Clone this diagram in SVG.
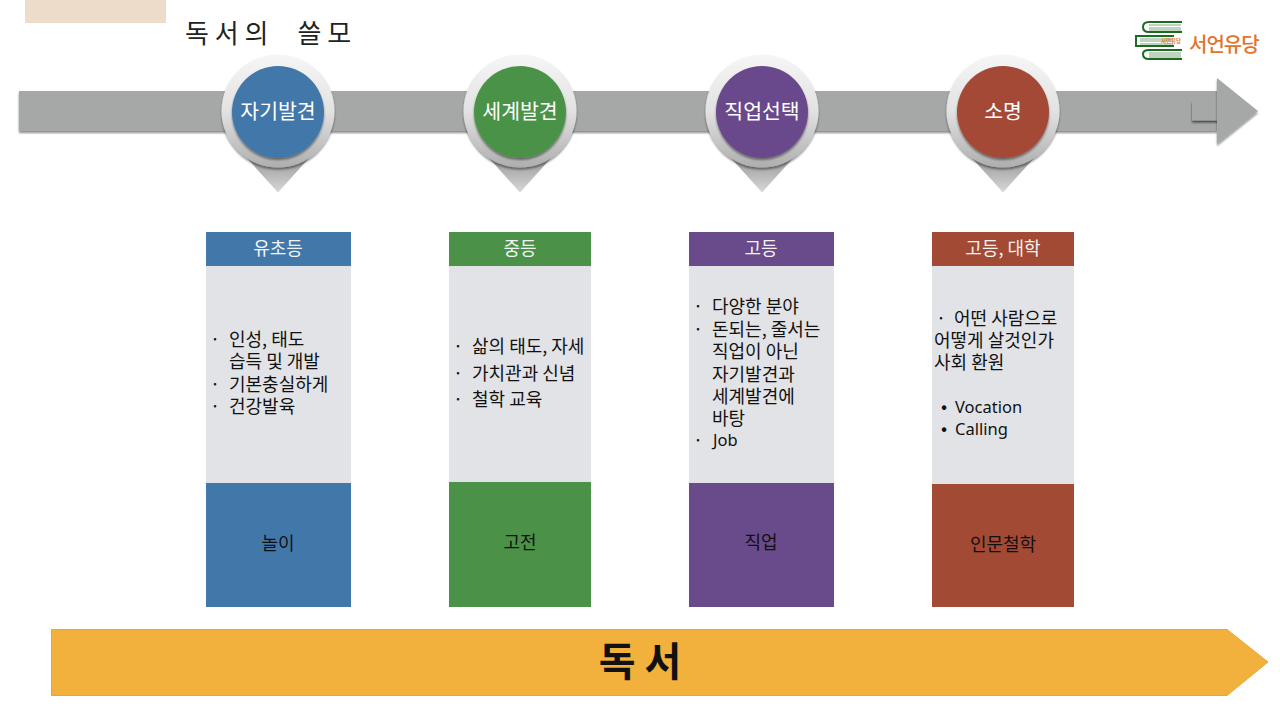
<svg xmlns="http://www.w3.org/2000/svg" width="1280" height="718" viewBox="0 0 1280 718">
<defs>
<linearGradient id="ring" x1="0" y1="0" x2="0" y2="1"><stop offset="0" stop-color="#f6f6f6"/><stop offset="0.5" stop-color="#e2e2e2"/><stop offset="1" stop-color="#aeaeae"/></linearGradient>
<linearGradient id="tip" x1="0" y1="0" x2="0" y2="1"><stop offset="0.2" stop-color="#a4a4a4"/><stop offset="1" stop-color="#d8d8d8"/></linearGradient>
<filter id="sh" x="-10%" y="-10%" width="120%" height="130%"><feGaussianBlur in="SourceAlpha" stdDeviation="1.200"/><feOffset dy="1.500"/><feComponentTransfer><feFuncA type="linear" slope="0.45"/></feComponentTransfer><feMerge><feMergeNode/><feMergeNode in="SourceGraphic"/></feMerge></filter>
<filter id="shl" x="-20%" y="-20%" width="130%" height="150%"><feGaussianBlur in="SourceAlpha" stdDeviation="1"/><feOffset dx="-0.500" dy="1.500"/><feComponentTransfer><feFuncA type="linear" slope="0.6"/></feComponentTransfer><feMerge><feMergeNode/><feMergeNode in="SourceGraphic"/></feMerge></filter>
<g id="pin">
<path d="M-32 46 L0 81.500 L32 46 Z" fill="url(#tip)"/>
<circle r="56.500" fill="url(#ring)" filter="url(#sh)"/>
</g>
</defs>
<style>
text{font-family:"Noto Sans CJK KR","Noto Sans",sans-serif}
.pinlabel{font-size:20.500px;fill:#fff;text-anchor:middle}
.head{font-size:18px;fill:#f2f2f2;text-anchor:middle}
.body{font-size:18px;fill:#111}
.lat{font-family:"Noto Sans",sans-serif;font-size:16.500px}
.foot{font-size:18px;fill:#111;text-anchor:middle}
.panel{fill:#e2e3e6}
.blue{fill:#4277a9}.green{fill:#4b9248}.purple{fill:#694a8b}.red{fill:#a34a35}
</style>
<rect x="25" y="0" width="141" height="23" fill="#eedccb"/>
<text x="185" y="43" font-size="26" fill="#222" letter-spacing="5.800" xml:space="preserve">독서의  쓸모</text>
<g id="timeline">
<path d="M19 91 H1217 V131 H19 Z" fill="#a6a8a7" filter="url(#sh)"/>
<rect x="1192" y="101" width="26" height="19.500" fill="#a6a8a7" filter="url(#shl)"/>
<path d="M1217 78 L1258 111 L1217 144 Z" fill="#a6a8a7" filter="url(#sh)"/>
</g>
<g id="pin-1"><use href="#pin" x="278" y="111"/><circle cx="278" cy="112" r="46" class="blue" filter="url(#sh)"/><text x="278" y="118.500" class="pinlabel">자기발견</text></g>
<g id="pin-2"><use href="#pin" x="520" y="111"/><circle cx="520" cy="112" r="46" class="green" filter="url(#sh)"/><text x="520" y="118.500" class="pinlabel">세계발견</text></g>
<g id="pin-3"><use href="#pin" x="762" y="111"/><circle cx="762" cy="112" r="46" class="purple" filter="url(#sh)"/><text x="762" y="118.500" class="pinlabel">직업선택</text></g>
<g id="pin-4"><use href="#pin" x="1003" y="111"/><circle cx="1003" cy="112" r="46" class="red" filter="url(#sh)"/><text x="1003" y="118.500" class="pinlabel">소명</text></g>
<g id="col-1">
<rect x="206" y="232" width="145" height="34" class="blue"/><rect x="206" y="266" width="145" height="217" class="panel"/><rect x="206" y="483" width="145" height="124" class="blue"/>
<text x="278" y="255" class="head">유초등</text>
<text class="body"><tspan x="210" y="346">·</tspan><tspan x="229" y="346">인성, 태도</tspan><tspan x="229" y="368">습득 및 개발</tspan><tspan x="210" y="391">·</tspan><tspan x="229" y="391">기본충실하게</tspan><tspan x="210" y="413">·</tspan><tspan x="229" y="413">건강발육</tspan></text>
<text x="278" y="550" class="foot">놀이</text>
</g>
<g id="col-2">
<rect x="449" y="232" width="142" height="34" class="green"/><rect x="449" y="266" width="142" height="216" class="panel"/><rect x="449" y="482" width="142" height="125" class="green"/>
<text x="520" y="255" class="head">중등</text>
<text class="body"><tspan x="453" y="353">·</tspan><tspan x="472" y="353">삶의 태도, 자세</tspan><tspan x="453" y="380">·</tspan><tspan x="472" y="380">가치관과 신념</tspan><tspan x="453" y="406">·</tspan><tspan x="472" y="406">철학 교육</tspan></text>
<text x="520" y="549" class="foot">고전</text>
</g>
<g id="col-3">
<rect x="689" y="232" width="145" height="34" class="purple"/><rect x="689" y="266" width="145" height="217" class="panel"/><rect x="689" y="483" width="145" height="124" class="purple"/>
<text x="761" y="255" class="head">고등</text>
<text class="body"><tspan x="693" y="313">·</tspan><tspan x="712" y="313">다양한 분야</tspan><tspan x="693" y="336">·</tspan><tspan x="712" y="336">돈되는, 줄서는</tspan><tspan x="712" y="358">직업이 아닌</tspan><tspan x="712" y="381">자기발견과</tspan><tspan x="712" y="403">세계발견에</tspan><tspan x="712" y="425">바탕</tspan><tspan x="693" y="447">·</tspan><tspan x="713" y="446" class="lat">Job</tspan></text>
<text x="761" y="549" class="foot">직업</text>
</g>
<g id="col-4">
<rect x="932" y="232" width="142" height="34" class="red"/><rect x="932" y="266" width="142" height="218" class="panel"/><rect x="932" y="484" width="142" height="123" class="red"/>
<text x="1003" y="255" class="head">고등, 대학</text>
<text class="body"><tspan x="936" y="325">·</tspan><tspan x="954" y="325">어떤 사람으로</tspan><tspan x="934" y="347">어떻게 살것인가</tspan><tspan x="934" y="369">사회 환원</tspan><tspan x="941" y="413">•</tspan><tspan x="955" y="413" class="lat">Vocation</tspan><tspan x="941" y="435">•</tspan><tspan x="955" y="435" class="lat">Calling</tspan></text>
<text x="1003" y="551" class="foot">인문철학</text>
</g>
<g id="reading-bar">
<path d="M51.500 629.500 H1227 L1268 662 L1227 695.500 H51.500 Z" fill="#f2b03c" stroke="#e8a733" stroke-width="1"/>
<text x="640" y="676" font-size="40" font-weight="700" fill="#111" text-anchor="middle" xml:space="preserve">독 서</text>
</g>
<g id="logo">
<g fill="none" stroke="#1d6b22" stroke-width="2">
<path d="M1182 22 H1149 Q1143 22 1143 27 Q1143 32 1149 32 H1182"/>
<path d="M1174 36 H1136 V46 H1174"/>
<path d="M1182 50 H1149 Q1143 50 1143 54 Q1143 59 1149 59 H1182"/>
</g>
<g stroke="#7fa97f" stroke-width="1">
<path d="M1149 25 H1181M1149 28 H1181M1149 30 H1181M1140 39 H1173M1140 41 H1173M1140 44 H1173M1149 53 H1181M1149 55 H1181M1149 57 H1181"/>
</g>
<text x="1171" y="43" font-size="5.500" font-weight="700" fill="#e07a30" text-anchor="middle">서언유당</text>
<text x="1189" y="52" font-size="20" font-weight="500" fill="#e0752d" letter-spacing="-1">서언유당</text>
</g>
</svg>
